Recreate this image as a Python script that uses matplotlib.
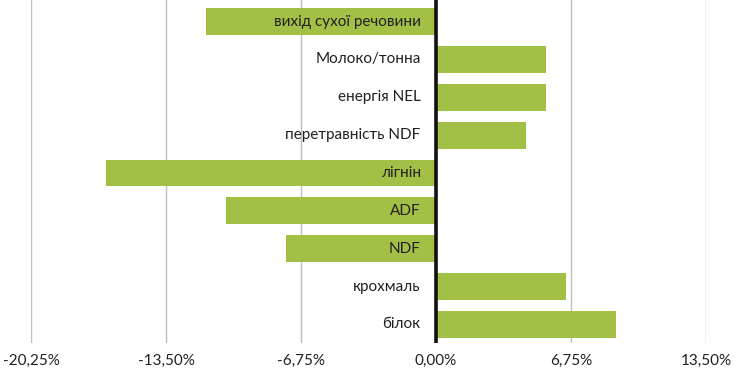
import numpy as np
import matplotlib
matplotlib.use("Agg")
import matplotlib.pyplot as plt

plt.rcParams['font.family'] = ['Lato', 'DejaVu Sans']

# дані (у відсотках)
categories = ["вихід сухої речовини", "Молоко/тонна", "енергія NEL",
              "перетравність NDF", "лігнін", "ADF", "NDF", "крохмаль", "білок"]
values = [-11.5, 5.5, 5.5, 4.5, -16.5, -10.5, -7.5, 6.5, 9.0]
ticks = [-20.25, -13.5, -6.75, 0.0, 6.75, 13.5]
tick_labels = ["-20,25%", "-13,50%", "-6,75%", "0,00%", "6,75%", "13,50%"]

fig = plt.figure(figsize=(7.43, 3.77), dpi=100)
ax = fig.add_axes([31/743, 34/377, (706-31)/743, 343/377])

y = np.arange(len(categories))
ax.barh(y, values, height=0.71, color='#a2c046', zorder=2)

for yi, name in zip(y, categories):
    ax.annotate(name, xy=(0, yi), xytext=(-11, 0), textcoords='offset points',
                ha='right', va='center', fontsize=11, color='#231f20', zorder=3)

ax.axvline(0, color='#111111', lw=2.6, zorder=4)

ax.set_xlim(-20.25, 13.5)
ax.set_ylim(8.49, -0.57)
ax.set_xticks(ticks)
ax.set_xticklabels(tick_labels, fontsize=11, color='#231f20')
ax.set_yticks([])
ax.tick_params(axis='x', length=0, pad=8)
ax.grid(axis='x', color='#c0c0c0', lw=1, zorder=0)
for s in ax.spines.values():
    s.set_visible(False)

plt.savefig('out.png', dpi=100)
